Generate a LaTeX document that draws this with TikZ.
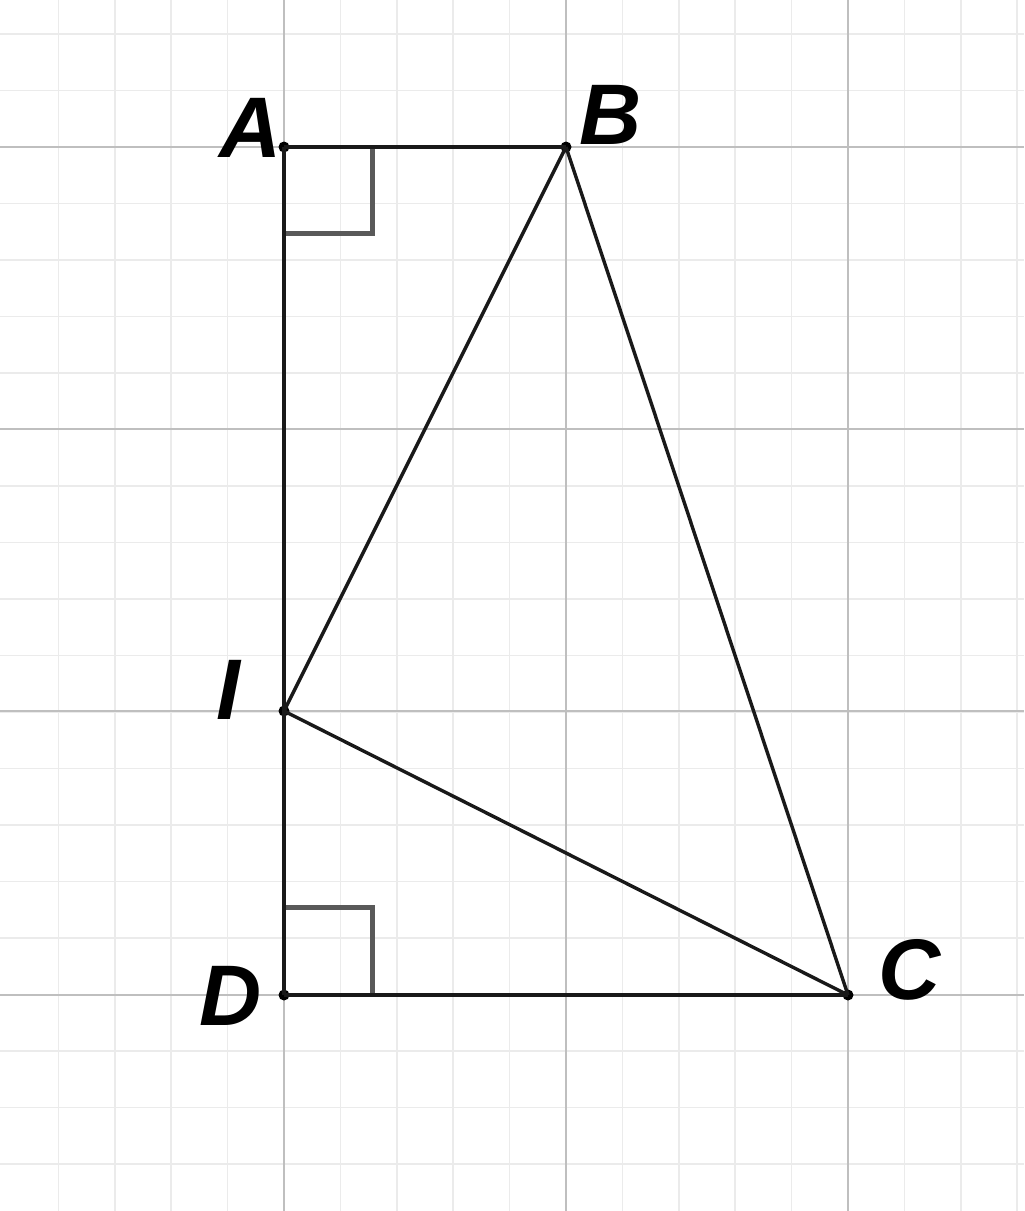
\documentclass[tikz,border=0pt]{standalone}
\usepackage{fontspec}
\setmainfont{Liberation Sans}
\begin{document}
\begin{tikzpicture}[x=0.5pt,y=-0.5pt,
  minorgrid/.style={draw=black!8,line width=0.8pt},
  majorgrid/.style={draw=black!25,line width=1pt},
  seg/.style={draw=black!90,line width=1.7pt},
  rightmark/.style={draw=black!65,line width=2.5pt},
  dot/.style={circle,fill=black,inner sep=0pt,minimum size=5.5pt},
  lbl/.style={font=\fontsize{43}{43}\selectfont\bfseries\itshape,inner sep=0pt}]
\useasboundingbox (0,0) rectangle (1024,1211);
\fill[white] (0,0) rectangle (1024,1211);
% grid
\foreach \i in {-4,...,13} \draw[minorgrid] ({284+56.4*\i},0) -- ++(0,1211);
\foreach \j in {-2,...,19} \draw[minorgrid] (0,{147+56.5*\j}) -- ++(1024,0);
\foreach \x in {284,566,848} \draw[majorgrid] (\x,0) -- ++(0,1211);
\foreach \y in {147,429,711,995} \draw[majorgrid] (0,\y) -- ++(1024,0);
% right angle marks
\draw[rightmark] (284,233) -- (372,233) -- (372,147);
\draw[rightmark] (284,907) -- (372,907) -- (372,995);
% points
\node[dot] (A) at (284,147) {};
\node[dot] (B) at (566,147) {};
\node[dot] (I) at (284,711) {};
\node[dot] (D) at (284,995) {};
\node[dot] (C) at (848,995) {};
% segments
\draw[seg] (A.center) -- (B.center);
\draw[seg] (A.center) -- (I.center);
\draw[seg] (I.center) -- (D.center);
\draw[seg] (D.center) -- (C.center);
\draw[seg] (B.center) -- (I.center);
\draw[seg] (B.center) -- (C.center);
\draw[seg] (I.center) -- (C.center);
% labels
\node[lbl] (lA) at (251,128) {A};
\node[lbl] (lB) at (611,115) {B};
\node[lbl] (lI) at (228,690) {I};
\node[lbl] (lD) at (231,996) {D};
\node[lbl] (lC) at (910,970) {C};
\end{tikzpicture}
\end{document}
